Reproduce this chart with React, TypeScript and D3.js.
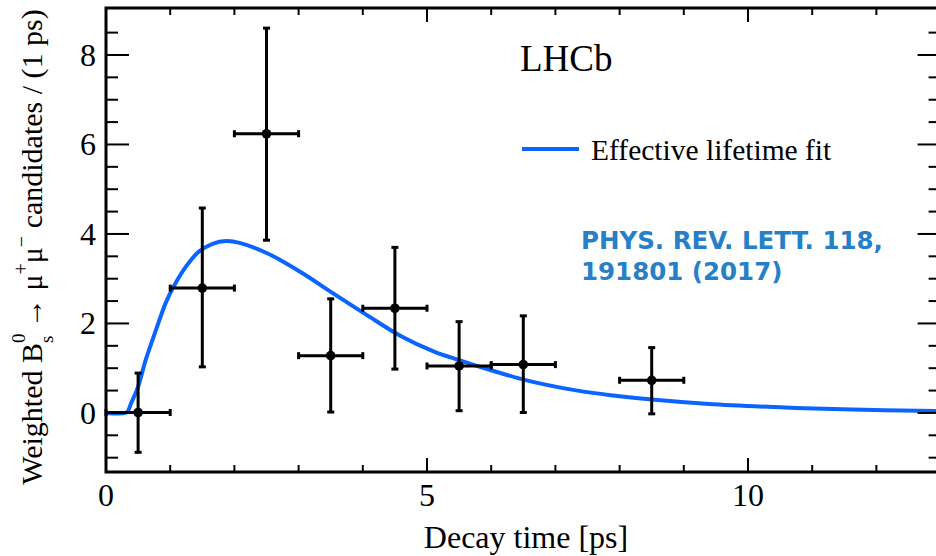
import React from "react";
import * as d3 from "d3";

const binCenters = [0.5, 1.5, 2.5, 3.5, 4.5, 5.5, 6.5, 8.5];
const binHalfWidth = [0.5, 0.5, 0.5, 0.5, 0.5, 0.5, 0.5, 0.5];
const yValues = [0.01, 2.79, 6.24, 1.28, 2.34, 1.05, 1.08, 0.73];
const yLow = [-0.88, 1.03, 3.86, 0.02, 0.98, 0.05, 0.01, -0.02];
const yHigh = [0.89, 4.58, 8.6, 2.55, 3.7, 2.04, 2.17, 1.46];

const fitT = [0, 0.3, 0.34, 0.39, 0.5, 0.62, 0.78, 0.93, 1.06, 1.25, 1.45, 1.66, 1.87, 2.08, 2.51, 3.03, 3.55, 4.07, 4.59, 5.11, 5.5, 5.74, 6.52, 7.3, 7.9, 8.5, 9.39, 10.42, 11.47, 13];
const fitY = [0, 0, 0.04, 0.21, 0.59, 1.19, 1.86, 2.46, 2.84, 3.28, 3.61, 3.78, 3.84, 3.8, 3.57, 3.15, 2.66, 2.18, 1.72, 1.37, 1.18, 1.07, 0.74, 0.51, 0.39, 0.3, 0.2, 0.13, 0.08, 0.04];

const xMajorTicks = [0, 5, 10];
const xMinorTicks = [1, 2, 3, 4, 6, 7, 8, 9, 11, 12];
const yMajorTicks = [0, 2, 4, 6, 8];
const yMinorTicks = [-1, -0.5, 0.5, 1, 1.5, 2.5, 3, 3.5, 4.5, 5, 5.5, 6.5, 7, 7.5, 8.5];

const W = 936;
const H = 556;
const serif = "'Liberation Serif', 'Times New Roman', serif";

export default function App() {
  const x = d3.scaleLinear().domain([0, 13]).range([106, 940.6]);
  const y = d3.scaleLinear().domain([-1.32, 9.05]).range([472, 8]);
  const x0 = x.range()[0];
  const x1 = x.range()[1];
  const yTop = y.range()[1];
  const yBot = y.range()[0];

  const fitPts: [number, number][] = fitT.map((t, i) => [t, fitY[i]]);
  const line = d3
    .line<[number, number]>()
    .x((d) => x(d[0]))
    .y((d) => y(d[1]))
    .curve(d3.curveCatmullRom.alpha(0.5));

  const cap = 3.5;
  const blue = "#0a64ff";

  return (
    <svg
      width={W}
      height={H}
      style={{ position: "absolute", left: 0, top: 0, display: "block", background: "#fff" }}
    >
      <rect x={0} y={0} width={W} height={H} fill="#fff" />
      {/* fit curve */}
      <path d={line(fitPts) || ""} fill="none" stroke={blue} strokeWidth={4} />

      {/* data points */}
      {binCenters.map((c, i) => {
        const cx = x(c);
        const cy = y(yValues[i]);
        const xl = x(c - binHalfWidth[i]);
        const xr = x(c + binHalfWidth[i]);
        const yl = y(yLow[i]);
        const yh = y(yHigh[i]);
        return (
          <g key={i} stroke="#000" strokeWidth={3}>
            <line x1={xl} x2={xr} y1={cy} y2={cy} />
            <line x1={cx} x2={cx} y1={yh} y2={yl} />
            <line x1={xl} x2={xl} y1={cy - cap} y2={cy + cap} />
            <line x1={xr} x2={xr} y1={cy - cap} y2={cy + cap} />
            <line x1={cx - cap} x2={cx + cap} y1={yh} y2={yh} />
            <line x1={cx - cap} x2={cx + cap} y1={yl} y2={yl} />
            <circle cx={cx} cy={cy} r={4.8} fill="#000" stroke="none" />
          </g>
        );
      })}

      {/* frame */}
      <rect x={x0} y={yTop} width={x1 - x0} height={yBot - yTop} fill="none" stroke="#000" strokeWidth={3} />

      {/* ticks */}
      <g stroke="#000" strokeWidth={2}>
        {xMajorTicks.map((t) => (
          <g key={"xM" + t}>
            <line x1={x(t)} x2={x(t)} y1={yBot} y2={yBot - 14} />
            <line x1={x(t)} x2={x(t)} y1={yTop} y2={yTop + 14} />
          </g>
        ))}
        {xMinorTicks.map((t) => (
          <g key={"xm" + t}>
            <line x1={x(t)} x2={x(t)} y1={yBot} y2={yBot - 7} />
            <line x1={x(t)} x2={x(t)} y1={yTop} y2={yTop + 7} />
          </g>
        ))}
        {yMajorTicks.map((t) => (
          <g key={"yM" + t}>
            <line x1={x0} x2={x0 + 23} y1={y(t)} y2={y(t)} />
            <line x1={x1} x2={x1 - 23} y1={y(t)} y2={y(t)} />
          </g>
        ))}
        {yMinorTicks.map((t) => (
          <g key={"ym" + t}>
            <line x1={x0} x2={x0 + 12} y1={y(t)} y2={y(t)} />
            <line x1={x1} x2={x1 - 12} y1={y(t)} y2={y(t)} />
          </g>
        ))}
      </g>

      {/* tick labels */}
      <g fontFamily={serif} fontSize={32} fill="#000">
        {xMajorTicks.map((t) => (
          <text key={"xl" + t} x={x(t)} y={506} textAnchor="middle">
            {String(t)}
          </text>
        ))}
        {yMajorTicks.map((t) => (
          <text key={"yl" + t} x={96} y={y(t)} dy="0.34em" textAnchor="end">
            {String(t)}
          </text>
        ))}
      </g>

      {/* axis titles */}
      <text x={526} y={548} textAnchor="middle" fontFamily={serif} fontSize={32} fill="#000">
        Decay time [ps]
      </text>
      <text
        transform="translate(42,247) rotate(-90)"
        textAnchor="middle"
        fontFamily={serif}
        fontSize={30}
        fill="#000"
      >
        <tspan>Weighted B</tspan>
        <tspan fontSize={19} dy={-17}>0</tspan>
        <tspan fontSize={19} dx={-9.5} dy={28}>s</tspan>
        <tspan dy={-11}> → μ</tspan>
        <tspan fontSize={20} dy={-14}>+</tspan>
        <tspan dy={14}>μ</tspan>
        <tspan fontSize={20} dy={-14}>−</tspan>
        <tspan dy={14}> candidates / (1 ps)</tspan>
      </text>

      {/* LHCb label and legend */}
      <text x={520} y={71} fontFamily={serif} fontSize={37} fill="#000">
        LHCb
      </text>
      <line x1={522} x2={579} y1={149} y2={149} stroke={blue} strokeWidth={4} />
      <text x={591} y={160} fontFamily={serif} fontSize={29.5} fill="#000">
        Effective lifetime fit
      </text>

      {/* citation */}
      <g fontFamily="'DejaVu Sans', Verdana, sans-serif" fontWeight="bold" fontSize={24.5} fill="#2580c8">
        <text x={581} y={249}>PHYS. REV. LETT. 118,</text>
        <text x={581} y={280}>191801 (2017)</text>
      </g>
    </svg>
  );
}
